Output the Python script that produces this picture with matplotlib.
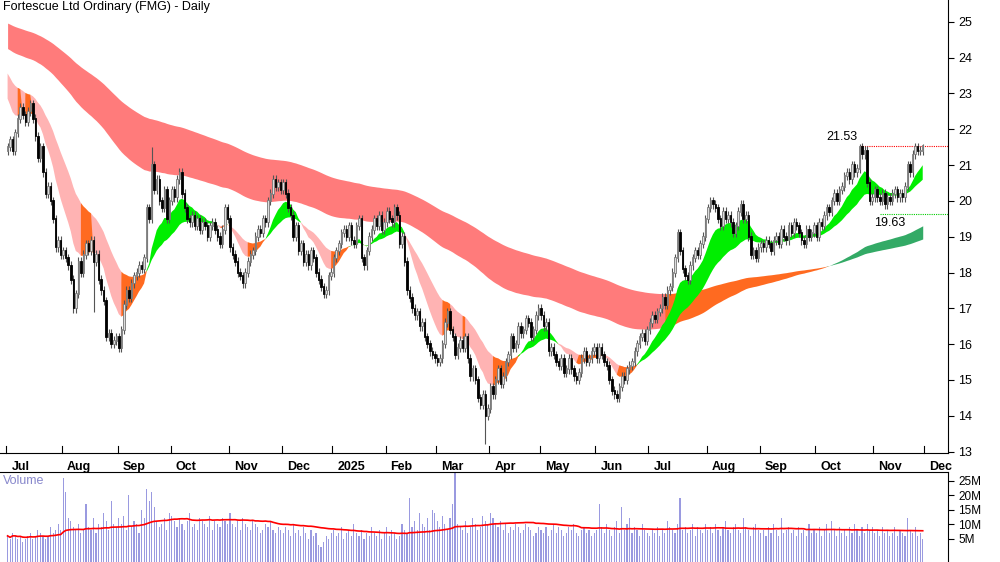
import matplotlib.pyplot as plt
import numpy as np
import pandas as pd

# daily closes, one list per month (Jul 2024 .. Nov 2025)
closes = [
    # Jul 24
    21.5, 21.7, 21.4, 21.9, 22.3, 22.6, 22.4, 22.2, 22.5, 22.7, 22.3, 21.8, 21.2, 21.5, 20.8, 20.2, 20.4, 20.0, 19.5, 18.7, 18.9, 18.5,
    # Aug
    18.6, 18.4, 18.2, 17.8, 17.0, 17.4, 18.3, 18.0, 18.5, 18.8, 18.6, 18.9, 18.3, 18.5, 17.8, 17.5, 17.2, 16.2, 16.3, 16.0, 16.1, 16.2,
    # Sep
    15.9, 16.4, 17.1, 17.5, 17.3, 17.7, 17.9, 18.0, 18.2, 18.1, 18.4, 19.8, 19.5, 21.0, 20.3, 20.6, 20.0, 19.8, 20.3, 19.5, 20.0,
    # Oct
    20.3, 20.1, 20.6, 20.8, 20.2, 19.8, 19.5, 19.4, 19.6, 19.3, 19.5, 19.2, 19.4, 19.3, 19.0, 19.3, 19.4, 19.2, 19.0, 18.8, 19.2, 19.8, 19.5,
    # Nov
    18.7, 18.5, 18.3, 18.0, 17.9, 17.7, 18.0, 18.3, 18.5, 18.6, 19.0, 19.2, 19.1, 19.5, 19.4, 20.0, 20.2, 20.6, 20.4, 20.5, 20.3,
    # Dec
    20.5, 20.2, 19.8, 19.6, 19.0, 19.3, 18.6, 18.8, 18.3, 18.5, 18.2, 18.6, 18.4, 18.0, 17.8, 17.6, 17.4, 17.5, 17.9, 18.0,
    # Jan 25
    18.4, 18.6, 18.8, 19.1, 19.2, 19.0, 19.3, 18.9, 18.8, 19.3, 19.5, 18.4, 18.2, 18.6, 19.0, 19.2, 19.5, 19.3, 19.6, 19.2, 19.4,
    # Feb
    19.7, 19.5, 19.4, 19.8, 19.6, 18.8, 19.0, 18.3, 17.5, 17.3, 17.0, 16.8, 16.9, 16.5, 16.6, 16.2, 16.0, 15.8, 15.7, 15.6,
    # Mar
    15.5, 15.6, 16.0, 16.6, 16.9, 16.4, 16.2, 15.7, 15.9, 16.1, 15.9, 16.2, 15.6, 15.1, 15.3, 15.0, 14.5, 14.3, 14.6, 14.0, 14.2,
    # Apr
    14.8, 14.6, 15.0, 15.3, 14.9, 15.1, 15.5, 15.7, 16.2, 15.9, 16.0, 16.5, 16.3, 16.4, 16.7, 16.6, 16.2, 16.4, 16.8, 17.0,
    # May
    16.8, 16.5, 16.6, 15.8, 15.9, 15.7, 15.5, 15.4, 15.6, 15.2, 15.3, 15.6, 15.3, 15.1, 15.0, 15.2, 15.6, 15.8, 15.5, 15.6, 15.8, 15.9,
    # Jun
    15.6, 15.9, 15.7, 15.5, 15.4, 15.0, 14.7, 14.6, 14.5, 14.8, 15.1, 15.0, 15.3, 15.4, 15.5, 15.8, 16.0, 16.2, 16.3, 16.1, 16.4,
    # Jul
    16.6, 16.8, 16.7, 16.9, 17.0, 17.3, 17.1, 17.5, 17.6, 18.0, 18.4, 19.1, 18.6, 18.1, 17.9, 17.8, 18.2, 18.4, 18.6, 18.5, 18.8, 19.0, 19.5,
    # Aug
    19.8, 20.0, 19.9, 19.8, 19.5, 19.3, 19.7, 19.5, 19.6, 19.4, 19.1, 19.3, 19.7, 19.9, 19.5, 19.6, 19.0, 18.5, 18.6, 18.4, 18.7,
    # Sep
    18.8, 18.7, 18.9, 18.8, 18.6, 18.9, 19.0, 18.8, 19.2, 19.0, 18.9, 19.3, 19.1, 19.4, 19.3, 19.1, 18.9, 18.8, 19.2, 19.0, 19.1, 19.3,
    # Oct
    19.0, 19.4, 19.3, 19.6, 19.8, 19.7, 20.0, 20.2, 20.0, 20.3, 20.4, 20.7, 20.8, 20.6, 21.0, 20.8, 20.9, 21.5, 21.3, 21.4, 20.5, 20.0, 20.1,
    # Nov
    20.3, 20.1, 20.0, 20.2, 19.9, 20.1, 20.0, 20.2, 20.3, 20.1, 20.2, 20.1, 20.4, 21.0, 20.8, 21.3, 21.5, 21.4, 21.4, 21.55,
]

# volume in millions
volumes = [
    6, 5, 7, 6, 5, 6, 4, 5, 6, 7, 5, 6, 8, 7, 6, 5, 6, 9, 7, 8, 10, 8,
    26, 21, 12, 11, 9, 8, 10, 7, 8, 17, 9, 8, 12, 7, 10, 9, 14, 11, 8, 18, 10, 9,
    12, 10, 13, 8, 20, 9, 11, 10, 7, 15, 12, 22, 18, 21, 16, 11, 9, 10, 12, 8, 14,
    13, 11, 9, 12, 10, 8, 11, 14, 9, 10, 8, 12, 11, 10, 9, 13, 8, 11, 10, 9, 12, 11, 10,
    14, 10, 9, 11, 8, 12, 10, 9, 8, 11, 10, 9, 7, 8, 10, 9, 11, 8, 7, 9, 8,
    7, 9, 8, 6, 10, 7, 8, 6, 9, 7, 5, 8, 6, 7, 3, 2, 4, 6, 5, 7,
    8, 6, 7, 9, 5, 7, 8, 6, 10, 7, 6, 8, 5, 7, 6, 9, 7, 6, 8, 5, 7,
    9, 6, 8, 7, 5, 6, 10, 8, 7, 19, 9, 11, 8, 14, 10, 9, 12, 8, 15, 14,
    11, 9, 13, 10, 8, 12, 17, 28, 10, 9, 8, 11, 7, 9, 12, 10, 8, 9, 13, 11, 10,
    14, 12, 10, 9, 11, 8, 10, 7, 9, 8, 10, 9, 7, 8, 10, 9, 8, 6, 7, 9,
    8, 7, 9, 6, 8, 10, 7, 9, 8, 6, 7, 9, 8, 10, 7, 6, 8, 9, 7, 8, 6, 7,
    8, 17, 9, 7, 10, 8, 6, 9, 11, 7, 16, 8, 10, 12, 7, 9, 8, 6, 10, 8, 7,
    6, 8, 7, 9, 6, 8, 7, 11, 9, 8, 7, 10, 19, 8, 9, 7, 8, 10, 6, 9, 8, 7, 10,
    8, 9, 7, 10, 8, 6, 9, 11, 8, 7, 9, 10, 8, 7, 12, 9, 8, 6, 9, 10, 8,
    7, 8, 6, 9, 7, 10, 8, 6, 12, 7, 8, 9, 7, 8, 6, 9, 7, 8, 6, 10, 7, 8,
    7, 9, 6, 8, 10, 7, 11, 8, 6, 9, 7, 8, 6, 9, 7, 10, 8, 6, 9, 7, 10, 8, 9,
    7, 8, 6, 9, 7, 8, 6, 7, 9, 6, 8, 7, 6, 12, 8, 7, 9, 6, 7, 5,
]

month_labels = ['Jul', 'Aug', 'Sep', 'Oct', 'Nov', 'Dec', '2025', 'Feb', 'Mar', 'Apr',
                'May', 'Jun', 'Jul', 'Aug', 'Sep', 'Oct', 'Nov', 'Dec']
month_days = [22, 22, 21, 23, 21, 20, 21, 20, 21, 20, 22, 21, 23, 21, 22, 23, 20]

# a few wick extremes (index: price)
high_extremes = {57: 21.5, 337: 21.6, 362: 21.6}
low_extremes = {189: 13.2, 34: 16.9}

# starting values of the moving-average ribbons at the left edge
short_seed = {12: 23.1, 30: 23.7}
long_seed = {120: 24.3, 200: 25.0}

recent_high = 21.53
recent_low = 19.63

# ---------------------------------------------------------------
closes = np.array(closes)
n = len(closes)
idx = np.arange(n)
opens = np.r_[closes[0] - 0.1, closes[:-1]]
highs = np.maximum(opens, closes) + 0.12
lows = np.minimum(opens, closes) - 0.12
for k, v in high_extremes.items():
    if k < n:
        highs[k] = v
for k, v in low_extremes.items():
    if k < n:
        lows[k] = v


def ema(values, span, seed):
    a = 2.0 / (span + 1)
    out = np.empty(len(values))
    prev = seed
    for i, v in enumerate(values):
        prev = prev + a * (v - prev)
        out[i] = prev
    return out


def ribbon(ax, fast, slow, c_up, c_turn, c_down, by_price=False):
    lo = np.minimum(fast, slow)
    hi = np.maximum(fast, slow)
    up = fast >= slow
    if by_price:
        turn = (~up) & (closes > hi)
        # stays orange once price is above, until the cross
        for i in range(1, n):
            if turn[i - 1] and not up[i]:
                turn[i] = True
    else:
        turn = (~up) & (np.r_[0, np.diff(fast)] > 0)
    down = (~up) & (~turn)
    for mask, col in [(down, c_down), (turn, c_turn), (up, c_up)]:
        m = mask | np.r_[mask[1:], False]
        ax.fill_between(idx, lo, hi, where=m, color=col, linewidth=0, interpolate=True)


s_fast = ema(closes, 12, short_seed[12])
s_slow = ema(closes, 30, short_seed[30])
l_fast = ema(closes, 120, long_seed[120])
l_slow = ema(closes, 200, long_seed[200])

fig = plt.figure(figsize=(10, 5.62), dpi=100)
plt.rcParams['font.family'] = ['Liberation Sans', 'DejaVu Sans']
ax = fig.add_axes([0, 1 - 453 / 562, 0.948, 453 / 562])
axv = fig.add_axes([0, 0, 0.948, 90 / 562])

xl = (-3, n + 9)

ribbon(ax, l_fast, l_slow, '#33aa66', '#ff6a20', '#ff7b7b', by_price=True)
ribbon(ax, s_fast, s_slow, '#00ee00', '#ff6a20', '#ffb3b3')

up = closes >= opens
ax.vlines(idx, lows, highs, color='#555555', linewidth=0.8, zorder=3)
ax.bar(idx[up], (closes - opens)[up] + 0.02, bottom=opens[up], width=0.6,
       color='#dddddd', edgecolor='#777777', linewidth=0.6, zorder=4)
ax.bar(idx[~up], (opens - closes)[~up] + 0.02, bottom=closes[~up], width=0.6,
       color='black', edgecolor='black', linewidth=0.6, zorder=4)

# recent high / low markers
hi_i = 337
lo_i = 345
ax.hlines(recent_high, hi_i, xl[1], colors='red', linestyles=(0, (1, 1)), linewidth=0.8)
ax.hlines(recent_low, lo_i, xl[1], colors='#00cc00', linestyles=(0, (1, 1)), linewidth=0.8)
ax.text(hi_i - 1, recent_high + 0.08, '%.2f' % recent_high, fontsize=9, ha='right', va='bottom')
ax.text(lo_i + 4, recent_low - 0.08, '%.2f' % recent_low, fontsize=9, ha='center', va='top')

ax.set_xlim(*xl)
ax.set_ylim(12.96, 25.61)
ax.yaxis.tick_right()
ax.set_yticks(range(13, 26))
ax.tick_params(axis='y', labelsize=9, length=4, direction='out')
ax.set_xticks([])
for s in ['top', 'left']:
    ax.spines[s].set_visible(False)
ax.text(0.003, 0.997, 'Fortescue Ltd Ordinary (FMG) - Daily', transform=ax.transAxes,
        fontsize=9, va='top', ha='left')

# month labels
starts = np.r_[0, np.cumsum(month_days)]
for s, lab in zip(starts, month_labels):
    ax.plot([s - 0.5, s - 0.5], [12.96, 13.16], color='black', linewidth=0.8, clip_on=False)
    ax.text(s + 1.5, 12.75, lab, fontsize=9, ha='left', va='top', fontweight='bold')

# volume
vols = np.array(volumes[:n], dtype=float)
vbase = -3
axv.bar(idx[:len(vols)], vols - vbase, bottom=vbase, width=0.45, color='#9a9ae0', linewidth=0)
vma = pd.Series(vols).rolling(50, min_periods=1).mean()
axv.plot(idx[:len(vols)], vma, color='red', linewidth=1.2)
axv.set_xlim(*xl)
axv.set_ylim(vbase, 28)
axv.yaxis.tick_right()
axv.set_yticks([5, 10, 15, 20, 25])
axv.set_yticklabels(['5M', '10M', '15M', '20M', '25M'])
axv.tick_params(axis='y', labelsize=8.5, length=4)
axv.set_xticks([])
for s in ['bottom', 'left']:
    axv.spines[s].set_visible(False)
axv.text(0.003, 0.97, 'Volume', transform=axv.transAxes, fontsize=9,
         color='#8888cc', va='top', ha='left')

fig.savefig('out.png', dpi=100)
